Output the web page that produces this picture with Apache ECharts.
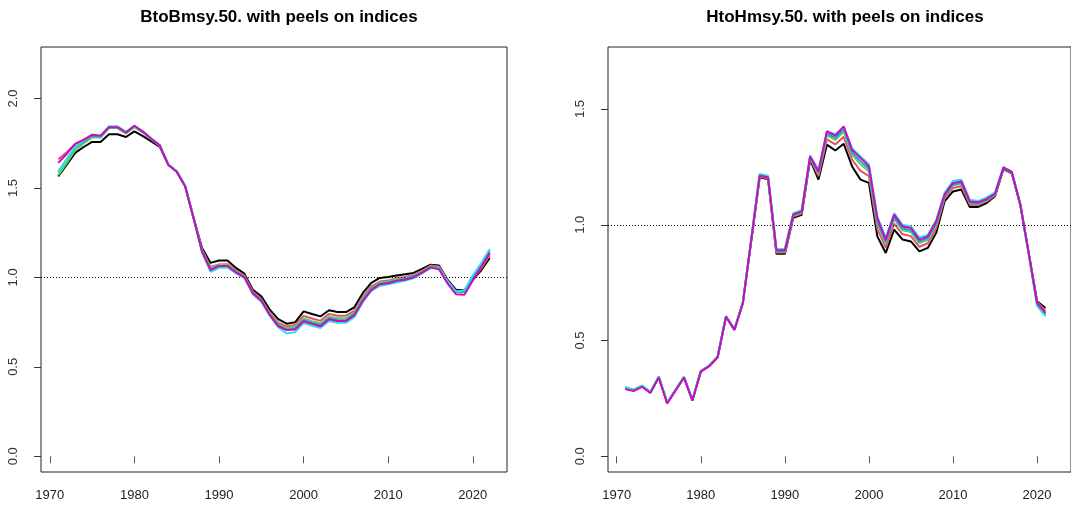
<!DOCTYPE html>
<html>
<head>
<meta charset="utf-8">
<script src="https://cdn.jsdelivr.net/npm/echarts@6/dist/echarts.min.js"></script>
<style>
  html, body { margin: 0; padding: 0; background: #ffffff; }
  #chart { width: 1071px; height: 508px; }
</style>
</head>
<body>
<div id="chart"></div>
<script>
// Years shown on each panel
const yearsB = [];
for (let y = 1971; y <= 2022; y++) yearsB.push(y);
const yearsH = [];
for (let y = 1971; y <= 2021; y++) yearsH.push(y);

const xTicks = [1970, 1980, 1990, 2000, 2010, 2020];
const yTicksB = [0, 0.5, 1.0, 1.5, 2.0];
const yTicksH = [0, 0.5, 1.0, 1.5];

const peelNames = ['base', 'peel1', 'peel2', 'peel3', 'peel4', 'peel5'];
const peelColors = ['#000000', '#DF536B', '#61D04F', '#2297E6', '#28E2E5', '#CD0BBC'];

// B / Bmsy, base run and index peels (1971-2022)
const bBase = [1.565,1.630,1.696,1.729,1.757,1.757,1.800,1.800,1.785,1.816,1.790,1.760,1.730,1.630,1.593,1.509,1.330,1.164,1.081,1.094,1.094,1.053,1.021,0.931,0.894,0.820,0.767,0.741,0.749,0.810,0.795,0.782,0.816,0.806,0.806,0.833,0.913,0.969,0.997,1.002,1.011,1.017,1.025,1.047,1.071,1.066,0.987,0.931,0.928,0.987,1.040,1.109];
const bPeel1 = [1.660,1.700,1.746,1.769,1.797,1.787,1.835,1.835,1.805,1.841,1.810,1.772,1.735,1.630,1.593,1.509,1.330,1.155,1.058,1.072,1.074,1.038,1.011,0.921,0.879,0.800,0.747,0.726,0.734,0.785,0.770,0.757,0.796,0.786,0.786,0.813,0.893,0.949,0.977,0.982,0.996,1.002,1.015,1.037,1.066,1.061,0.982,0.921,0.918,0.987,1.050,1.124];
const bPeel2 = [1.570,1.640,1.711,1.749,1.782,1.782,1.835,1.835,1.805,1.841,1.810,1.772,1.735,1.630,1.591,1.509,1.330,1.150,1.051,1.069,1.069,1.033,1.006,0.916,0.874,0.795,0.739,0.716,0.724,0.770,0.755,0.742,0.781,0.771,0.771,0.803,0.883,0.939,0.972,0.977,0.991,0.997,1.010,1.032,1.061,1.056,0.977,0.921,0.918,0.997,1.060,1.139];
const bPeel3 = [1.590,1.660,1.726,1.759,1.792,1.787,1.840,1.840,1.810,1.846,1.815,1.775,1.738,1.630,1.591,1.509,1.330,1.144,1.041,1.064,1.064,1.028,1.001,0.911,0.869,0.790,0.732,0.706,0.714,0.760,0.745,0.732,0.771,0.761,0.761,0.793,0.873,0.934,0.962,0.972,0.981,0.992,1.005,1.027,1.056,1.054,0.977,0.921,0.923,1.002,1.070,1.150];
const bPeel4 = [1.585,1.660,1.731,1.764,1.797,1.792,1.845,1.845,1.815,1.846,1.815,1.775,1.738,1.633,1.593,1.514,1.335,1.139,1.031,1.054,1.054,1.023,0.996,0.906,0.864,0.785,0.722,0.686,0.694,0.745,0.730,0.717,0.756,0.746,0.746,0.778,0.863,0.924,0.952,0.962,0.971,0.982,0.995,1.022,1.051,1.051,0.977,0.921,0.928,1.012,1.080,1.159];
const bPeel5 = [1.640,1.690,1.746,1.769,1.797,1.792,1.840,1.840,1.810,1.848,1.815,1.775,1.738,1.630,1.590,1.509,1.330,1.144,1.041,1.064,1.064,1.028,1.001,0.911,0.869,0.790,0.727,0.706,0.709,0.755,0.740,0.727,0.766,0.756,0.756,0.788,0.868,0.929,0.962,0.967,0.981,0.987,1.000,1.027,1.056,1.046,0.967,0.906,0.903,0.982,1.060,1.137];

// H / Hmsy, base run and index peels (1971-2021)
const hBase = [0.295,0.285,0.303,0.276,0.343,0.230,0.286,0.341,0.242,0.367,0.391,0.429,0.604,0.547,0.662,0.930,1.204,1.198,0.875,0.875,1.030,1.043,1.281,1.195,1.346,1.321,1.350,1.252,1.195,1.181,0.950,0.878,0.979,0.936,0.928,0.885,0.900,0.965,1.101,1.144,1.152,1.077,1.077,1.094,1.123,1.240,1.222,1.087,0.880,0.670,0.640];
const hPeel1 = [0.293,0.284,0.302,0.275,0.342,0.229,0.285,0.341,0.241,0.367,0.390,0.428,0.604,0.547,0.662,0.932,1.207,1.201,0.880,0.880,1.035,1.048,1.287,1.209,1.369,1.347,1.380,1.281,1.233,1.210,0.982,0.901,1.005,0.959,0.951,0.905,0.920,0.985,1.113,1.159,1.166,1.087,1.085,1.101,1.127,1.243,1.224,1.088,0.880,0.667,0.630];
const hPeel2 = [0.299,0.287,0.305,0.278,0.343,0.231,0.287,0.342,0.243,0.367,0.390,0.428,0.604,0.547,0.663,0.934,1.211,1.204,0.885,0.885,1.040,1.053,1.291,1.220,1.387,1.366,1.403,1.302,1.261,1.231,1.005,0.919,1.025,0.976,0.969,0.921,0.935,1.000,1.121,1.170,1.177,1.094,1.091,1.106,1.131,1.245,1.225,1.089,0.879,0.664,0.620];
const hPeel3 = [0.296,0.286,0.304,0.277,0.342,0.231,0.287,0.342,0.243,0.367,0.390,0.428,0.604,0.547,0.663,0.936,1.214,1.207,0.888,0.888,1.043,1.056,1.293,1.226,1.395,1.375,1.414,1.313,1.275,1.242,1.017,0.927,1.034,0.984,0.977,0.928,0.943,1.008,1.126,1.175,1.182,1.097,1.094,1.108,1.132,1.246,1.226,1.090,0.878,0.660,0.612];
const hPeel4 = [0.298,0.288,0.305,0.278,0.343,0.232,0.288,0.343,0.244,0.368,0.392,0.430,0.606,0.549,0.665,0.940,1.220,1.212,0.895,0.895,1.050,1.063,1.300,1.236,1.400,1.392,1.420,1.330,1.295,1.262,1.035,0.945,1.050,1.000,0.993,0.945,0.956,1.020,1.138,1.190,1.195,1.108,1.103,1.118,1.140,1.250,1.230,1.092,0.875,0.650,0.604];
const hPeel5 = [0.290,0.282,0.300,0.273,0.340,0.228,0.284,0.340,0.240,0.366,0.389,0.427,0.603,0.546,0.662,0.935,1.212,1.205,0.890,0.890,1.045,1.058,1.295,1.231,1.404,1.385,1.425,1.324,1.289,1.253,1.029,0.936,1.044,0.993,0.986,0.936,0.950,1.015,1.130,1.181,1.187,1.101,1.097,1.111,1.134,1.247,1.228,1.090,0.880,0.662,0.619];

const bRuns = [bBase, bPeel1, bPeel2, bPeel3, bPeel4, bPeel5];
const hRuns = [hBase, hPeel1, hPeel2, hPeel3, hPeel4, hPeel5];

const FONT = "'Liberation Sans', Arial, Helvetica, sans-serif";

function pairs(years, vals) {
  return years.map((y, i) => [y, vals[i]]);
}

function xAxisFor(gridIndex) {
  return {
    type: 'value', gridIndex,
    min: 1968.96, max: 2024.04,
    axisLine: { show: false },
    splitLine: { show: false },
    axisTick: { show: true, inside: false, length: 7, customValues: xTicks,
                lineStyle: { color: '#555', width: 1 } },
    axisLabel: { show: true, customValues: xTicks, margin: 17,
                 fontFamily: FONT, fontSize: 13, color: '#222',
                 formatter: v => String(Math.round(v)) }
  };
}

function yAxisFor(gridIndex, min, max, ticks) {
  return {
    type: 'value', gridIndex, min, max,
    axisLine: { show: false },
    splitLine: { show: false },
    axisTick: { show: true, inside: false, length: 7, customValues: ticks,
                lineStyle: { color: '#333', width: 1 } },
    axisLabel: { show: true, customValues: ticks, rotate: 90, margin: 21,
                 fontFamily: FONT, fontSize: 13, color: '#333',
                 formatter: v => v.toFixed(1) }
  };
}

function runSeries(gridIdx, years, runs) {
  return runs.map((vals, k) => {
    const s = {
      name: peelNames[k],
      type: 'line',
      xAxisIndex: gridIdx, yAxisIndex: gridIdx,
      data: pairs(years, vals),
      showSymbol: false,
      symbol: 'none',
      lineStyle: { color: peelColors[k], width: 2 },
      itemStyle: { color: peelColors[k] },
      z: 2 + k,
      silent: true
    };
    if (k === 0) {
      s.markLine = {
        silent: true, symbol: 'none', label: { show: false },
        lineStyle: { color: '#000', type: [1, 2], width: 1 },
        data: [{ yAxis: 1 }]
      };
    }
    return s;
  });
}

const chart = echarts.init(document.getElementById('chart'), null, { renderer: 'canvas' });
chart.setOption({
  animation: false,
  backgroundColor: '#ffffff',
  title: [
    { text: 'BtoBmsy.50. with peels on indices', left: 274, top: 4, textAlign: 'center',
      textStyle: { fontFamily: FONT, fontSize: 17, fontWeight: 'bold', color: '#000' } },
    { text: 'HtoHmsy.50. with peels on indices', left: 840, top: 4, textAlign: 'center',
      textStyle: { fontFamily: FONT, fontSize: 17, fontWeight: 'bold', color: '#000' } }
  ],
  grid: [
    { left: 41, top: 47, width: 466, height: 425, show: true,
      borderColor: '#222', borderWidth: 1, backgroundColor: 'transparent' },
    { left: 608, top: 47, width: 466, height: 425, show: true,
      borderColor: '#222', borderWidth: 1, backgroundColor: 'transparent' }
  ],
  xAxis: [xAxisFor(0), xAxisFor(1)],
  yAxis: [yAxisFor(0, -0.088, 2.288, yTicksB), yAxisFor(1, -0.068, 1.768, yTicksH)],
  series: [].concat(runSeries(0, yearsB, bRuns), runSeries(1, yearsH, hRuns))
});
</script>
</body>
</html>
